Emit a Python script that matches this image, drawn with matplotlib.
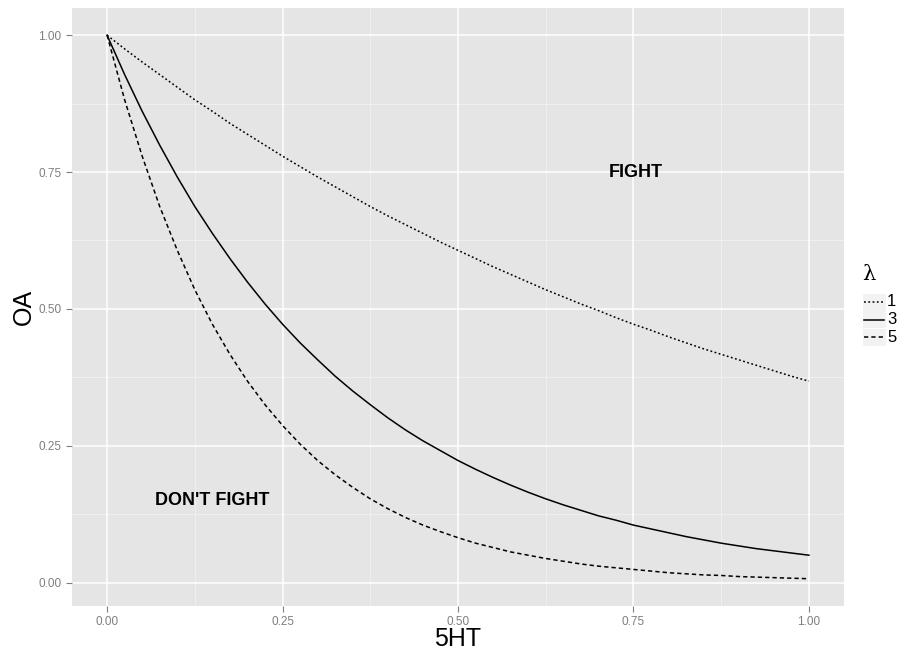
import numpy as np
import matplotlib
matplotlib.use("Agg")
import matplotlib.pyplot as plt
from matplotlib.lines import Line2D
from matplotlib.patches import Rectangle

plt.rcParams["font.family"] = ["Liberation Sans", "DejaVu Sans"]

# values (OA at each 5HT step of 0.025)
x_5ht = [0.000, 0.025, 0.050, 0.075, 0.100, 0.125, 0.150, 0.175, 0.200, 0.225,
         0.250, 0.275, 0.300, 0.325, 0.350, 0.375, 0.400, 0.425, 0.450, 0.475,
         0.500, 0.525, 0.550, 0.575, 0.600, 0.625, 0.650, 0.675, 0.700, 0.725,
         0.750, 0.775, 0.800, 0.825, 0.850, 0.875, 0.900, 0.925, 0.950, 0.975,
         1.000]
oa_lam1 = [1.000, 0.975, 0.951, 0.928, 0.905, 0.882, 0.861, 0.839, 0.819, 0.799,
           0.779, 0.760, 0.741, 0.723, 0.705, 0.687, 0.670, 0.654, 0.638, 0.622,
           0.607, 0.592, 0.577, 0.563, 0.549, 0.535, 0.522, 0.509, 0.497, 0.484,
           0.472, 0.461, 0.449, 0.438, 0.427, 0.417, 0.407, 0.397, 0.387, 0.377,
           0.368]
oa_lam3 = [1.000, 0.928, 0.861, 0.799, 0.741, 0.687, 0.638, 0.592, 0.549, 0.509,
           0.472, 0.438, 0.407, 0.377, 0.350, 0.325, 0.301, 0.279, 0.259, 0.241,
           0.223, 0.207, 0.192, 0.178, 0.165, 0.153, 0.142, 0.132, 0.122, 0.114,
           0.105, 0.098, 0.091, 0.084, 0.078, 0.072, 0.067, 0.062, 0.058, 0.054,
           0.050]
oa_lam5 = [1.000, 0.882, 0.779, 0.687, 0.607, 0.535, 0.472, 0.417, 0.368, 0.325,
           0.287, 0.253, 0.223, 0.197, 0.174, 0.153, 0.135, 0.119, 0.105, 0.093,
           0.082, 0.072, 0.064, 0.056, 0.050, 0.044, 0.039, 0.034, 0.030, 0.027,
           0.024, 0.021, 0.018, 0.016, 0.014, 0.013, 0.011, 0.010, 0.009, 0.008,
           0.007]

lambdas = ["1", "3", "5"]
series = [oa_lam1, oa_lam3, oa_lam5]
dash_styles = [(0, (1.2, 1.6)), "-", (0, (2.8, 2.0))]

ticks = [0.00, 0.25, 0.50, 0.75, 1.00]
tick_labels = ["0.00", "0.25", "0.50", "0.75", "1.00"]

fig = plt.figure(figsize=(8.98, 6.53), dpi=100)
ax = fig.add_axes([72 / 898, 1 - 606 / 653, (844 - 72) / 898, (606 - 8) / 653])
ax.set_facecolor("#E5E5E5")
for s in ax.spines.values():
    s.set_visible(False)

# ggplot-ish grid
for t in [0.125, 0.375, 0.625, 0.875]:
    ax.axvline(t, color="#F2F2F2", linewidth=0.6, zorder=0)
    ax.axhline(t, color="#F2F2F2", linewidth=0.6, zorder=0)
for t in ticks:
    ax.axvline(t, color="white", linewidth=1.1, zorder=0)
    ax.axhline(t, color="white", linewidth=1.1, zorder=0)

for y, ls in zip(series, dash_styles):
    ax.plot(x_5ht, y, color="black", linewidth=1.1, linestyle=ls, zorder=2)

ax.set_xlim(-0.05, 1.05)
ax.set_ylim(-0.0428, 1.0497)
ax.set_xticks(ticks)
ax.set_xticklabels(tick_labels)
ax.set_yticks(ticks)
ax.set_yticklabels(tick_labels)
ax.tick_params(colors="#7F7F7F", labelcolor="#7F7F7F", labelsize=8.5,
               length=4, width=0.8)

ax.set_xlabel("5HT", fontsize=18, labelpad=-1)
ax.set_ylabel("OA", fontsize=18, labelpad=2)

ax.text(0.754, 0.75, "FIGHT", fontsize=13, fontweight="bold", ha="center", va="center")
ax.text(0.15, 0.15, "DON'T FIGHT", fontsize=13, fontweight="bold", ha="center", va="center")

# legend squeezed against the right edge, as in the reference
fig.text(862 / 898, 1 - 275 / 653, "\u03bb", fontsize=15, ha="left", va="center",
         family=["DejaVu Serif"])
row_y = [302, 319.5, 337]
for lab, ls, yy in zip(lambdas, dash_styles, row_y):
    fig.patches.append(Rectangle((863 / 898, 1 - (yy + 8.5) / 653), 23 / 898, 17 / 653,
                                 transform=fig.transFigure, facecolor="#F2F2F2",
                                 edgecolor="none"))
    fig.lines.append(Line2D([864 / 898, 884 / 898], [1 - yy / 653, 1 - yy / 653],
                            transform=fig.transFigure, color="black",
                            linewidth=1.1, linestyle=ls))
    fig.text(887 / 898, 1 - yy / 653, lab, fontsize=12, ha="left", va="center")

fig.savefig("out.png", dpi=100)
